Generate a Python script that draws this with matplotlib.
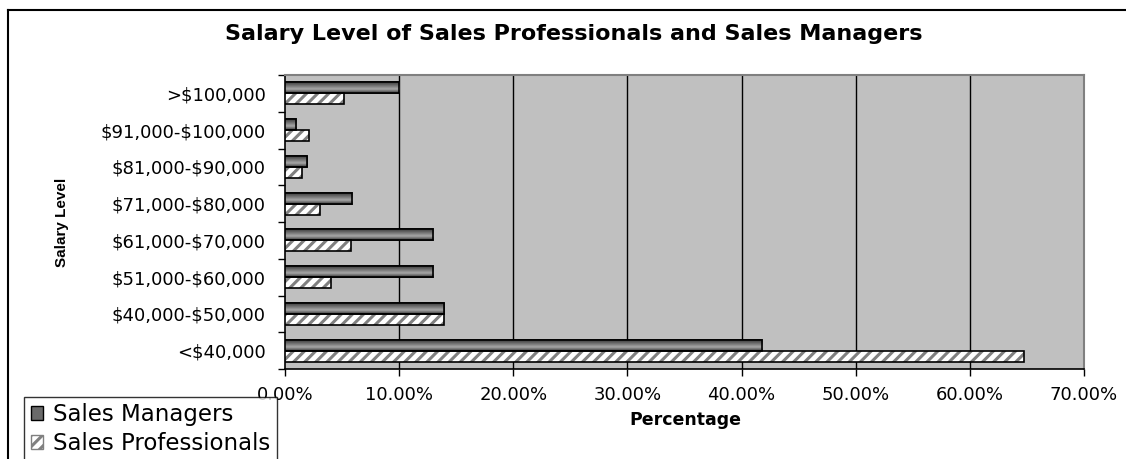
import numpy as np
import matplotlib
matplotlib.use("Agg")
import matplotlib.pyplot as plt
from matplotlib.patches import Rectangle, Patch
from matplotlib.lines import Line2D
from matplotlib.colors import LinearSegmentedColormap

plt.rcParams['font.family'] = ['DejaVu Sans']
plt.rcParams['text.parse_math'] = False
plt.rcParams['hatch.linewidth'] = 2.2

# salary bands, bottom to top
levels = ["<$40,000", "$40,000-$50,000", "$51,000-$60,000", "$61,000-$70,000",
          "$71,000-$80,000", "$81,000-$90,000", "$91,000-$100,000", ">$100,000"]
managers = [41.8, 13.9, 13.0, 13.0, 5.9, 1.9, 1.0, 10.0]
professionals = [64.7, 13.9, 4.0, 5.8, 3.1, 1.5, 2.1, 5.2]
xticks = [0, 10, 20, 30, 40, 50, 60, 70]

W, H = 1126, 459
fig = plt.figure(figsize=(W / 100, H / 100), dpi=100)
ax = fig.add_axes([285 / W, 1 - 369 / H, (1084 - 285) / W, (369 - 75) / H])
ax.set_facecolor('#c0c0c0')

y = np.arange(len(levels))
bh = 0.3

# dark-light-dark shading for the manager bars
shade = LinearSegmentedColormap.from_list('shade', ['#3a3a3a', '#a8a8a8', '#6a6a6a', '#2e2e2e'])
grad = np.linspace(0, 1, 64).reshape(-1, 1)

mbars = ax.barh(y + bh / 2, managers, height=bh, color='#808080', edgecolor='black',
                linewidth=1.2, zorder=3)
for b in mbars:
    x0, y0 = b.get_x(), b.get_y()
    w, h = b.get_width(), b.get_height()
    im = ax.imshow(grad, extent=[x0, x0 + w, y0 + h, y0], aspect='auto', cmap=shade,
                   zorder=3.5, interpolation='bilinear')
    im.set_clip_path(b)
    ax.add_patch(Rectangle((x0, y0), w, h, fill=False, edgecolor='black', linewidth=1.2, zorder=4))

ax.barh(y - bh / 2, professionals, height=bh, color='white', edgecolor='#808080',
        hatch='///', linewidth=0, zorder=3)
ax.barh(y - bh / 2, professionals, height=bh, fill=False, edgecolor='black',
        linewidth=1.2, zorder=4)

ax.set_xlim(0, 70)
ax.set_ylim(-0.5, len(levels) - 0.5)
ax.set_xticks(xticks)
ax.set_xticklabels(["%.2f%%" % v for v in xticks], fontsize=13)
ax.set_yticks(y)
ax.set_yticklabels(levels, fontsize=13)
ax.set_yticks(np.arange(len(levels) + 1) - 0.5, minor=True)
ax.tick_params(axis='y', which='major', length=0, pad=14)
ax.tick_params(axis='y', which='minor', length=5, width=1)
ax.tick_params(axis='x', length=5, width=1, pad=7)

for v in xticks[1:-1]:
    ax.axvline(v, color='black', linewidth=1, zorder=1)

for side in ['top', 'right']:
    ax.spines[side].set_color('#808080')
    ax.spines[side].set_linewidth(1.5)
for side in ['left', 'bottom']:
    ax.spines[side].set_color('black')
    ax.spines[side].set_linewidth(1.2)

fig.text(574 / W, 1 - 34 / H, "Salary Level of Sales Professionals and Sales Managers",
         ha='center', va='center', fontsize=16, fontweight='bold')
fig.text(685 / W, 1 - 420 / H, "Percentage", ha='center', va='center',
         fontsize=12.5, fontweight='bold')
fig.text(62 / W, 1 - 222 / H, "Salary Level", ha='center', va='center', rotation=90,
         fontsize=11, fontweight='bold', family=['Liberation Sans Narrow', 'Liberation Sans'])

handles = [Patch(facecolor='#6a6a6a', edgecolor='black', linewidth=1),
           Patch(facecolor='white', edgecolor='#808080', hatch='///', linewidth=1)]
leg = fig.legend(handles, ["Sales Managers", "Sales Professionals"], loc='lower left',
                 bbox_to_anchor=(24 / W, -3 / H), fontsize=16.5, frameon=True,
                 fancybox=False, edgecolor='black', borderaxespad=0,
                 handlelength=0.55, handleheight=0.55, handletextpad=0.4,
                 labelspacing=0.25, borderpad=0.3)
leg.get_frame().set_linewidth(1)

# outer chart frame
fig.add_artist(Line2D([8 / W, 8 / W], [0, 1 - 10 / H], color='black', linewidth=1.5,
                      transform=fig.transFigure))
fig.add_artist(Line2D([8 / W, 1], [1 - 10 / H, 1 - 10 / H], color='black', linewidth=1.5,
                      transform=fig.transFigure))

fig.savefig("out.png", dpi=100, facecolor='white')
